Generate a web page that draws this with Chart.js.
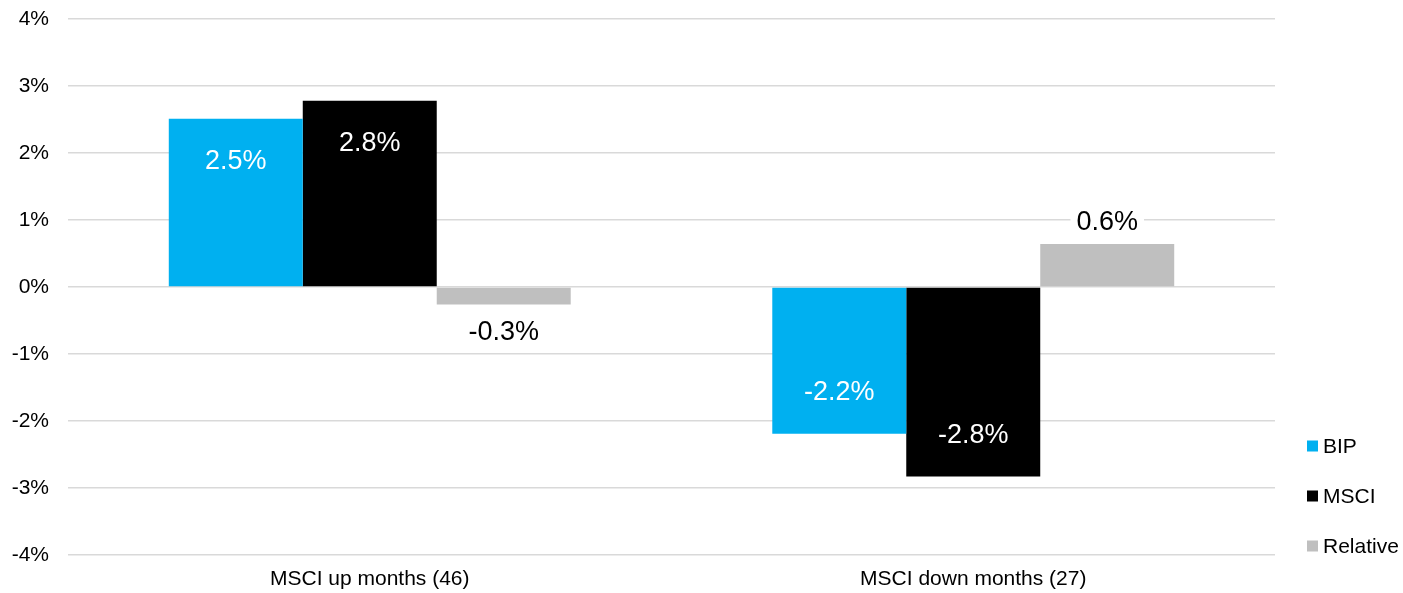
<!DOCTYPE html>
<html>
<head>
<meta charset="utf-8">
<script src="https://cdn.jsdelivr.net/npm/chart.js@4"></script>
<style>
  html, body { margin: 0; padding: 0; background: #fff; }
  #wrap { width: 1403px; height: 593px; position: relative; }
</style>
</head>
<body>
<div id="wrap"><canvas id="grafica"></canvas></div>
<script>
const categorias = ['MSCI up months (46)', 'MSCI down months (27)']
const series = ['BIP', 'MSCI', 'Relative']
const valoresBIP = [2.51, -2.19]
const valoresMSCI = [2.78, -2.83]
const valoresRelative = [-0.26, 0.64]
const colores = ['#00B0F0', '#000000', '#BFBFBF']
const ticksY = [-4, -3, -2, -1, 0, 1, 2, 3, 4]

const fuente = '"Liberation Sans", Arial, sans-serif'

// etiquetas de valor sobre/dentro de las barras
const etiquetasBarras = {
    id: 'etiquetasBarras',
    afterDatasetsDraw(chart) {
        const ctx = chart.ctx
        ctx.save()
        ctx.font = '27px ' + fuente
        ctx.textAlign = 'center'
        ctx.textBaseline = 'middle'
        chart.data.datasets.forEach((ds, i) => {
            const meta = chart.getDatasetMeta(i)
            meta.data.forEach((bar, j) => {
                const v = ds.data[j]
                const texto = v.toFixed(1) + '%'
                const neg = v < 0
                let y
                if (i < 2) {
                    y = neg ? bar.y - 42 : bar.y + 42
                    ctx.fillStyle = '#ffffff'
                } else {
                    y = neg ? bar.y + 27 : bar.y - 23
                    const w = ctx.measureText(texto).width
                    ctx.fillStyle = '#ffffff'
                    ctx.fillRect(bar.x - w / 2 - 6, y - 14, w + 12, 28)
                    ctx.fillStyle = '#000000'
                }
                ctx.fillText(texto, bar.x, y + 1)
            })
        })
        ctx.restore()
    }
}

// leyenda vertical abajo a la derecha
const leyenda = {
    id: 'leyenda',
    afterDraw(chart) {
        const ctx = chart.ctx
        const area = chart.chartArea
        const n = chart.data.datasets.length
        ctx.save()
        ctx.font = '21px ' + fuente
        ctx.textBaseline = 'middle'
        chart.data.datasets.forEach((ds, i) => {
            const yc = area.bottom - 9 - (n - 1 - i) * 50
            const x = area.right + 32
            ctx.fillStyle = ds.backgroundColor
            ctx.fillRect(x, yc - 5.5, 11, 11)
            ctx.fillStyle = '#000000'
            ctx.fillText(ds.label, x + 16, yc + 1)
        })
        ctx.restore()
    }
}

const datos = {
    labels: categorias,
    datasets: [
        { label: series[0], data: valoresBIP, backgroundColor: colores[0] },
        { label: series[1], data: valoresMSCI, backgroundColor: colores[1] },
        { label: series[2], data: valoresRelative, backgroundColor: colores[2] }
    ]
}

new Chart(document.querySelector('#grafica'), {
    type: 'bar',
    data: datos,
    options: {
        responsive: true,
        maintainAspectRatio: false,
        animation: false,
        layout: { padding: { top: 19, right: 128, bottom: 0, left: 0 } },
        datasets: {
            bar: { categoryPercentage: 0.666, barPercentage: 1.0, borderWidth: 0, borderSkipped: false }
        },
        plugins: {
            legend: { display: false },
            tooltip: { enabled: false }
        },
        scales: {
            x: {
                grid: { display: false, drawTicks: false },
                border: { display: false },
                ticks: { color: '#000', font: { family: fuente, size: 21 }, padding: 12 },
                afterFit(scale) { scale.height = 38 }
            },
            y: {
                min: -4,
                max: 4,
                afterBuildTicks(scale) { scale.ticks = ticksY.map(v => ({ value: v })) },
                grid: { color: '#D9D9D9', lineWidth: 1.5, drawTicks: false },
                border: { display: false },
                ticks: {
                    color: '#000',
                    font: { family: fuente, size: 21 },
                    padding: 19,
                    callback: v => v + '%'
                },
                afterFit(scale) {
                    scale.width = 68
                    scale.paddingTop = 0
                    scale.paddingBottom = 0
                }
            }
        }
    },
    plugins: [etiquetasBarras, leyenda]
})
</script>
</body>
</html>
